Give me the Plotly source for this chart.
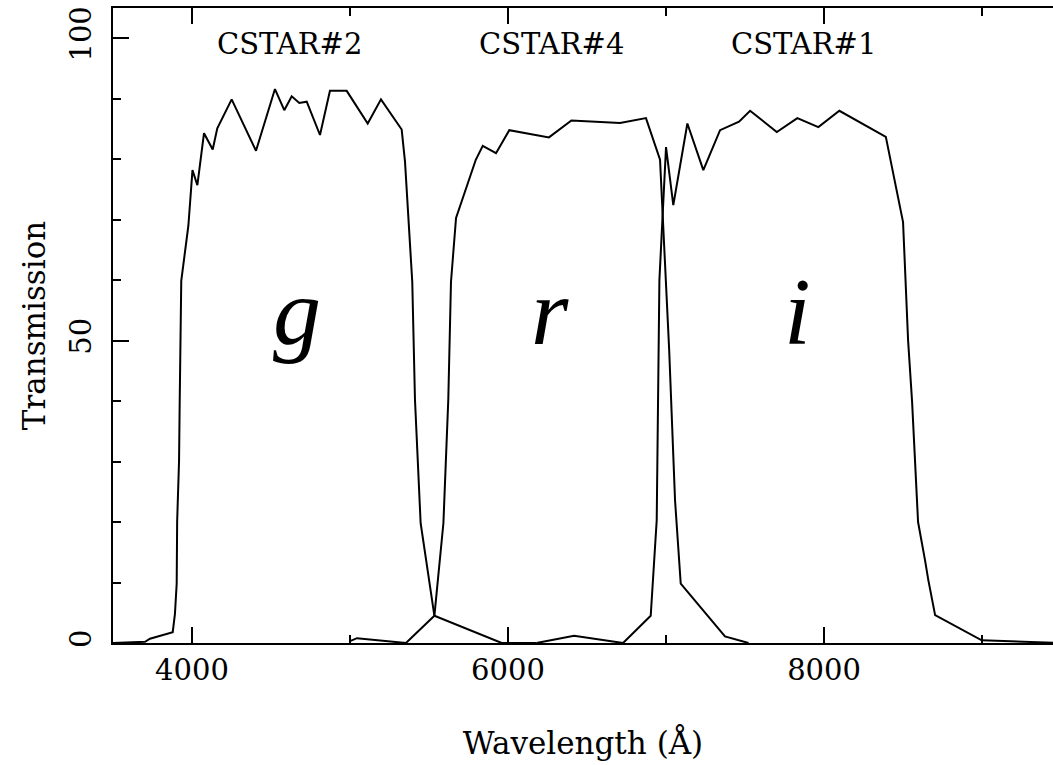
import plotly.graph_objects as go

# ---- data ----
g_wl = [3500, 3703, 3734, 3878, 3892, 3903, 3906, 3913, 3918, 3922, 3927, 3932,
        3977, 4003, 4034, 4076, 4131, 4160, 4251, 4405, 4525, 4584, 4631, 4679,
        4726, 4810, 4873, 4979, 5112, 5196, 5327, 5348, 5394, 5411, 5447, 5534,
        5960, 6180]
g_T = [0, 0.2, 0.7, 1.8, 4.8, 9.8, 20.1, 25.4, 30.1, 39.7, 50.3, 59.9,
       69.0, 78.2, 75.7, 84.3, 81.6, 85.1, 89.9, 81.4, 91.6, 88.1, 90.4, 89.3,
       89.5, 84.0, 91.3, 91.3, 85.9, 89.9, 84.9, 79.6, 59.7, 40.3, 19.8, 4.5,
       0, 0]

r_wl = [5000, 5044, 5354, 5534, 5591, 5622, 5639, 5671, 5796, 5840, 5924, 6008,
        6259, 6401, 6709, 6873, 6962, 7020, 7057, 7093, 7373, 7522]
r_T = [0.3, 0.8, 0, 4.5, 19.8, 40.3, 59.7, 70.3, 79.9, 82.2, 81.0, 84.8,
       83.6, 86.4, 86.0, 86.8, 79.9, 48.4, 23.6, 9.8, 1.1, 0]

i_wl = [6180, 6418, 6728, 6903, 6941, 6955, 6958, 7000, 7046, 7135, 7236, 7342,
        7462, 7532, 7701, 7831, 7964, 8097, 8391, 8500, 8532, 8557, 8595, 8639,
        8660, 8703, 8998, 9500]
i_T = [0, 1.2, 0, 4.5, 20.3, 48.4, 60.0, 82.0, 72.4, 85.9, 78.2, 84.8,
       86.2, 88.0, 84.5, 86.8, 85.3, 88.0, 83.7, 69.6, 50.0, 40.0, 20.0, 13.7,
       10.4, 4.6, 0.45, 0]

filter_names = ["CSTAR#2", "CSTAR#4", "CSTAR#1"]
filter_name_wl = [4620, 6272, 7867]
band_letters = ["g", "r", "i"]
band_letter_wl = [4665, 6266, 7829]

SERIF = "DejaVu Serif"
INK = "black"

fig = go.Figure()
for wl, t in [(g_wl, g_T), (r_wl, r_T), (i_wl, i_T)]:
    fig.add_trace(go.Scatter(x=wl, y=t, mode="lines",
                             line=dict(color=INK, width=2),
                             showlegend=False, hoverinfo="skip"))

annotations = []
for name, wl in zip(filter_names, filter_name_wl):
    annotations.append(dict(x=wl, y=99.0, xref="x", yref="y", text=name,
                            showarrow=False, xanchor="center", yanchor="middle",
                            font=dict(family=SERIF, size=29, color=INK)))
for letter, wl in zip(band_letters, band_letter_wl):
    annotations.append(dict(x=wl, y=54.8, xref="x", yref="y", text=letter,
                            showarrow=False, xanchor="center", yanchor="middle",
                            font=dict(family="Liberation Serif", size=96,
                                      color=INK, style="italic")))

axis_common = dict(showgrid=False, zeroline=False, ticks="inside",
                   tickcolor=INK, tickwidth=2, linecolor=INK, linewidth=2,
                   automargin=False,
                   tickfont=dict(family=SERIF, size=29, color=INK))

minor_x = dict(tickmode="linear", dtick=1000, tick0=0, ticks="inside",
               ticklen=8, tickcolor=INK, tickwidth=2, showgrid=False)
minor_y = dict(tickmode="linear", dtick=10, tick0=0, ticks="inside",
               ticklen=8, tickcolor=INK, tickwidth=2, showgrid=False)

fig.update_layout(
    width=1053, height=765,
    margin=dict(l=113, r=0, t=8, b=122),
    paper_bgcolor="white", plot_bgcolor="white",
    xaxis=dict(range=[3500, 9449], tickmode="linear", tick0=0, dtick=2000,
               ticklen=16, showline=True, mirror="ticks", minor=minor_x,
               title=dict(text="Wavelength (Å)", standoff=47,
                          font=dict(family=SERIF, size=31, color=INK)),
               ticklabelstandoff=0,
               **axis_common),
    yaxis=dict(range=[0, 105], tickmode="linear", tick0=0, dtick=50,
               ticklen=16, showline=True, mirror=False, tickangle=-90,
               minor=minor_y,
               title=dict(text="Transmission", standoff=10,
                          font=dict(family=SERIF, size=31, color=INK)),
               ticklabelstandoff=8,
               **axis_common),
    annotations=annotations,
)

fig.write_html("out.html", config={"displayModeBar": False},
               post_script="document.body.style.margin='0';"
                           "document.body.style.overflow='hidden';")
